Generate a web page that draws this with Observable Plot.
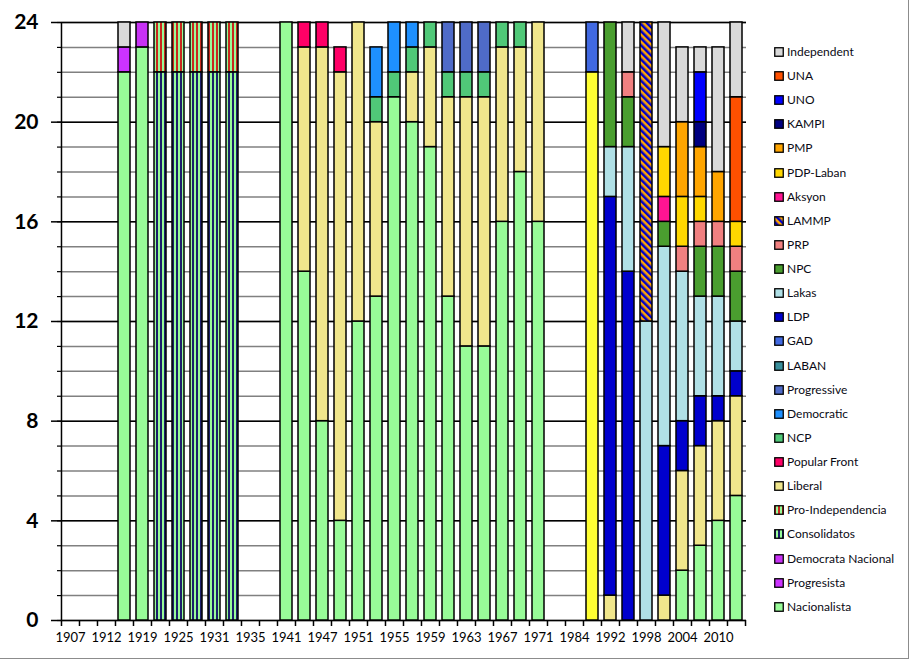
<!DOCTYPE html>
<html><head><meta charset="utf-8">
<script src="https://cdn.jsdelivr.net/npm/d3@7"></script>
<script src="https://cdn.jsdelivr.net/npm/@observablehq/plot@0.6"></script>
<style>
body{margin:0;background:#fff;}
#chart{position:relative;width:908px;height:658px;border-right:1.5px solid #8c8c8c;border-bottom:1.5px solid #8c8c8c;font-family:Lato,"Open Sans",sans-serif;overflow:hidden;}
#legend{position:absolute;left:774px;top:0;}
.item{position:absolute;left:0;height:24px;line-height:24px;font-size:12px;white-space:nowrap;display:flex;align-items:center;color:#0a0a14;}
.item svg{margin-right:3px;display:block;}
</style></head><body><div id="chart"><div id="legend"></div></div>
<script>
// ---- data ----
const years = [1907,1909,1912,1916,1919,1922,1925,1928,1931,1934,1935,1938,1941,1946,1947,1949,1951,1953,1955,1957,1959,1961,1963,1965,1967,1969,1971,1978,1984,1987,1992,1995,1998,2001,2004,2007,2010,2013];
const labelYears = years.filter((d, i) => i % 2 === 0);
const yTicks = [0, 4, 8, 12, 16, 20, 24];

const nacionalista = [[1916,22],[1919,23],[1941,24],[1946,14],[1947,8],[1949,4],[1951,12],[1953,13],[1955,21],[1957,20],[1959,19],[1961,13],[1963,11],[1965,11],[1967,16],[1969,18],[1971,16],[2004,2],[2007,3],[2010,4],[2013,5]];
const progresista = [[1916,1]];
const democrataNacional = [[1919,1]];
const consolidatos = [[1922,22],[1925,22],[1928,22],[1931,22],[1934,22]];
const proIndependencia = [[1922,2],[1925,2],[1928,2],[1931,2],[1934,2]];
const liberal = [[1946,9],[1947,15],[1949,18],[1951,12],[1953,7],[1957,2],[1959,4],[1961,8],[1963,10],[1965,10],[1967,7],[1969,5],[1971,8],[1992,1],[2001,1],[2004,4],[2007,4],[2010,4],[2013,4]];
const popularFront = [[1946,1],[1947,1],[1949,1]];
const ncp = [[1953,1],[1955,1],[1957,1],[1959,1],[1961,1],[1963,1],[1965,1],[1967,1],[1969,1]];
const democratic = [[1953,2],[1955,2],[1957,1]];
const progressive = [[1961,2],[1963,2],[1965,2]];
const laban = [];
const labanCoalition = [[1987,22]];
const gad = [[1987,2]];
const ldp = [[1992,16],[1995,14],[2001,6],[2004,2],[2007,2],[2010,1],[2013,1]];
const lakas = [[1992,2],[1995,5],[1998,12],[2001,8],[2004,6],[2007,4],[2010,4],[2013,2]];
const npc = [[1992,5],[1995,2],[2001,1],[2007,2],[2010,2],[2013,2]];
const prp = [[1995,1],[2004,1],[2007,1],[2010,1],[2013,1]];
const lammp = [[1998,12]];
const aksyon = [[2001,1]];
const pdpLaban = [[2001,2],[2004,2],[2007,1],[2013,1]];
const pmp = [[2004,3],[2007,2],[2010,2]];
const kampi = [[2007,1]];
const uno = [[2007,2]];
const una = [[2013,5]];
const independent = [[1916,1],[1995,2],[2001,5],[2004,3],[2007,1],[2010,5],[2013,3]];

// stacking order, bottom to top
const series = [
  ["Nacionalista", nacionalista],
  ["Progresista", progresista],
  ["Democrata Nacional", democrataNacional],
  ["Consolidatos", consolidatos],
  ["Pro-Independencia", proIndependencia],
  ["Liberal", liberal],
  ["Popular Front", popularFront],
  ["NCP", ncp],
  ["Democratic", democratic],
  ["Progressive", progressive],
  ["LABAN", laban],
  ["LABAN coalition", labanCoalition],
  ["GAD", gad],
  ["LDP", ldp],
  ["Lakas", lakas],
  ["NPC", npc],
  ["PRP", prp],
  ["LAMMP", lammp],
  ["Aksyon", aksyon],
  ["PDP-Laban", pdpLaban],
  ["PMP", pmp],
  ["KAMPI", kampi],
  ["UNO", uno],
  ["UNA", una],
  ["Independent", independent]
];

// ---- styles ----
const partyColors = {
  "Nacionalista": "#98FB98",
  "Progresista": "#CC33FF",
  "Democrata Nacional": "#C832F5",
  "Consolidatos": "url(#pat-consol)",
  "Pro-Independencia": "url(#pat-proind)",
  "Liberal": "#F0E68C",
  "Popular Front": "#FF0066",
  "NCP": "#50C878",
  "Democratic": "#1E90FF",
  "Progressive": "#4F6BC8",
  "LABAN": "#3A8F9C",
  "LABAN coalition": "#FFFF33",
  "GAD": "#4169E1",
  "LDP": "#0000CD",
  "Lakas": "#B0E0E6",
  "NPC": "#4A9E2F",
  "PRP": "#F08080",
  "LAMMP": "url(#pat-lammp)",
  "Aksyon": "#FF1493",
  "PDP-Laban": "#FFD700",
  "PMP": "#FFA500",
  "KAMPI": "#000080",
  "UNO": "#0000FF",
  "UNA": "#FF5000",
  "Independent": "#D9D9D9"
};

const rows = series.flatMap(([party, vals]) => vals.map(([year, seats]) => ({year, seats, party})));
const order = series.map(s => s[0]);

const W = 760, H = 658, ML = 61, MR = 14, MT = 22, MB = 38;
const step = (W - ML - MR) / years.length;

const plot = Plot.plot({
  width: W, height: H, marginLeft: ML, marginRight: MR, marginTop: MT, marginBottom: MB,
  x: {type: "band", domain: years, paddingInner: 0.33, paddingOuter: 0.165, label: null},
  y: {domain: [0, 24], label: null},
  color: {type: "identity"},
  style: {fontFamily: "Lato, 'Open Sans', sans-serif", background: "transparent", color: "#000"},
  marks: [
    Plot.gridY(d3.range(0, 25, 1), {stroke: "#808080", strokeOpacity: 1, strokeWidth: 1.5}),
    Plot.gridY(yTicks, {stroke: "#000", strokeOpacity: 1, strokeWidth: 1.5}),
    Plot.barY(rows, Plot.stackY({
      x: "year", y: "seats", z: "party", order,
      fill: d => partyColors[d.party],
      stroke: "#000", strokeWidth: 1.5
    })),
    Plot.ruleX([years[0]], {y1: 0, y2: 24, dx: -step / 2, stroke: "#000", strokeWidth: 1.5}),
    Plot.axisY(d3.range(0, 25, 1), {tickSize: 4, tickFormat: () => "", strokeWidth: 1.2, label: null}),
    Plot.axisY(yTicks, {tickSize: 10, tickPadding: 13, fontSize: 21, fontWeight: "bold", strokeWidth: 1.5, label: null}),
    Plot.axisX(years, {tickSize: 6, tickFormat: () => "", dx: -step / 2, strokeWidth: 1.5, label: null}),
    Plot.axisX([years[years.length - 1]], {tickSize: 6, tickFormat: () => "", dx: step / 2, strokeWidth: 1.5, label: null}),
    Plot.axisX(labelYears, {tickSize: 0, tickPadding: 12, fontSize: 13, tickFormat: d => `${d}`, label: null})
  ]
});

// patterns
const defs = d3.select(plot).insert("defs", ":first-child");
function stripes(id, a, b, size, transform) {
  const p = defs.append("pattern").attr("id", id).attr("patternUnits", "userSpaceOnUse")
    .attr("width", size).attr("height", size);
  if (transform) p.attr("patternTransform", transform);
  p.append("rect").attr("width", size).attr("height", size).attr("fill", a);
  p.append("rect").attr("width", size / 2).attr("height", size).attr("fill", b);
}
stripes("pat-consol", "#98FB98", "#1B1F6B", 4);
stripes("pat-proind", "#98FB98", "#C8281E", 4);
stripes("pat-lammp", "#FFA500", "#0000CD", 5, "rotate(-45)");

document.getElementById("chart").prepend(plot);
plot.style.position = "absolute";
plot.style.left = "0";
plot.style.top = "0";

// legend (top to bottom)
const legendNames = order.filter(n => n !== "LABAN coalition").reverse();
const legend = d3.select("#legend");
legendNames.forEach((name, i) => {
  const it = legend.append("div").attr("class", "item").style("top", `${40 + 24.12 * i}px`);
  const sw = it.append("svg").attr("width", 10).attr("height", 10);
  sw.append("rect").attr("x", 0.75).attr("y", 0.75).attr("width", 8.5).attr("height", 8.5)
    .attr("fill", partyColors[name]).attr("stroke", "#000").attr("stroke-width", 1.3);
  it.append("span").text(name);
});
</script></body></html>
